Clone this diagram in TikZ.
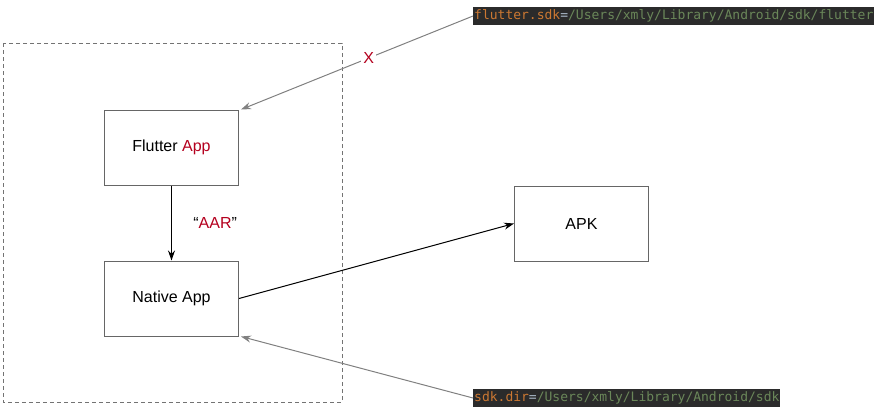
\documentclass[tikz,border=0pt]{standalone}
\usepackage{fontspec}
\setmainfont{Liberation Sans}
\setmonofont{DejaVu Sans Mono}
\usetikzlibrary{arrows.meta,calc}

\definecolor{appred}{RGB}{180,0,30}
\definecolor{codebg}{RGB}{43,43,43}
\definecolor{codeorange}{RGB}{204,120,50}
\definecolor{codegreen}{RGB}{106,135,89}
\definecolor{codegray}{RGB}{169,183,198}
\definecolor{linegray}{RGB}{128,128,128}

\tikzset{
  appbox/.style={draw=black!60,line width=1pt,minimum width=134pt,minimum height=75pt,font=\fontsize{16}{18}\selectfont,inner sep=0pt},
  codebox/.style={fill=codebg,font=\ttfamily\fontsize{13}{15}\selectfont,inner xsep=1pt,inner ysep=0pt,minimum height=18pt,anchor=west},
  grayarrow/.style={draw=linegray,line width=1pt,-{Stealth[length=10pt,width=7pt]}},
  blackarrow/.style={draw=black,line width=1pt,-{Stealth[length=10pt,width=7pt]}}
}

\begin{document}
\begin{tikzpicture}[x=1pt,y=-1pt]
   \useasboundingbox (0,0) rectangle (879,413);

   % outer dashed frame
   \draw[draw=black!55,line width=1pt,dash pattern=on 4pt off 3pt] (3,43) rectangle (342,402);

   % boxes
   \node[appbox] (fa) at (171.5,147.5) {Flutter \textcolor{appred}{App}};
   \node[appbox] (na) at (171.5,298.5) {Native App};
   \node[appbox] (apk) at (581.5,223.5) {APK};

   % code lines
   \node[codebox] (fsdk) at (473,16) {\textcolor{codeorange}{flutter.sdk}\textcolor{codegray}{=}\textcolor{codegreen}{/Users/xmly/Library/Android/sdk/flutter}};
   \node[codebox] (sdir) at (473,398) {\textcolor{codeorange}{sdk.dir}\textcolor{codegray}{=}\textcolor{codegreen}{/Users/xmly/Library/Android/sdk}};

   % connectors
   \draw[blackarrow] (fa) -- (na) node[pos=0.5,right=18pt,font=\fontsize{16}{18}\selectfont] (aar) {``\textcolor{appred}{AAR}''};
   \draw[blackarrow] (na.east) -- (apk.west);
   \draw[grayarrow] (fsdk.west) -- ($(fa.north east)+(2,0)$) node[pos=0.45,fill=white,inner sep=2pt,text=appred,font=\fontsize{16}{18}\selectfont] (x) {X};
   \draw[grayarrow] (sdir.west) -- ($(na.south east)+(2,0)$);
\end{tikzpicture}
\end{document}
